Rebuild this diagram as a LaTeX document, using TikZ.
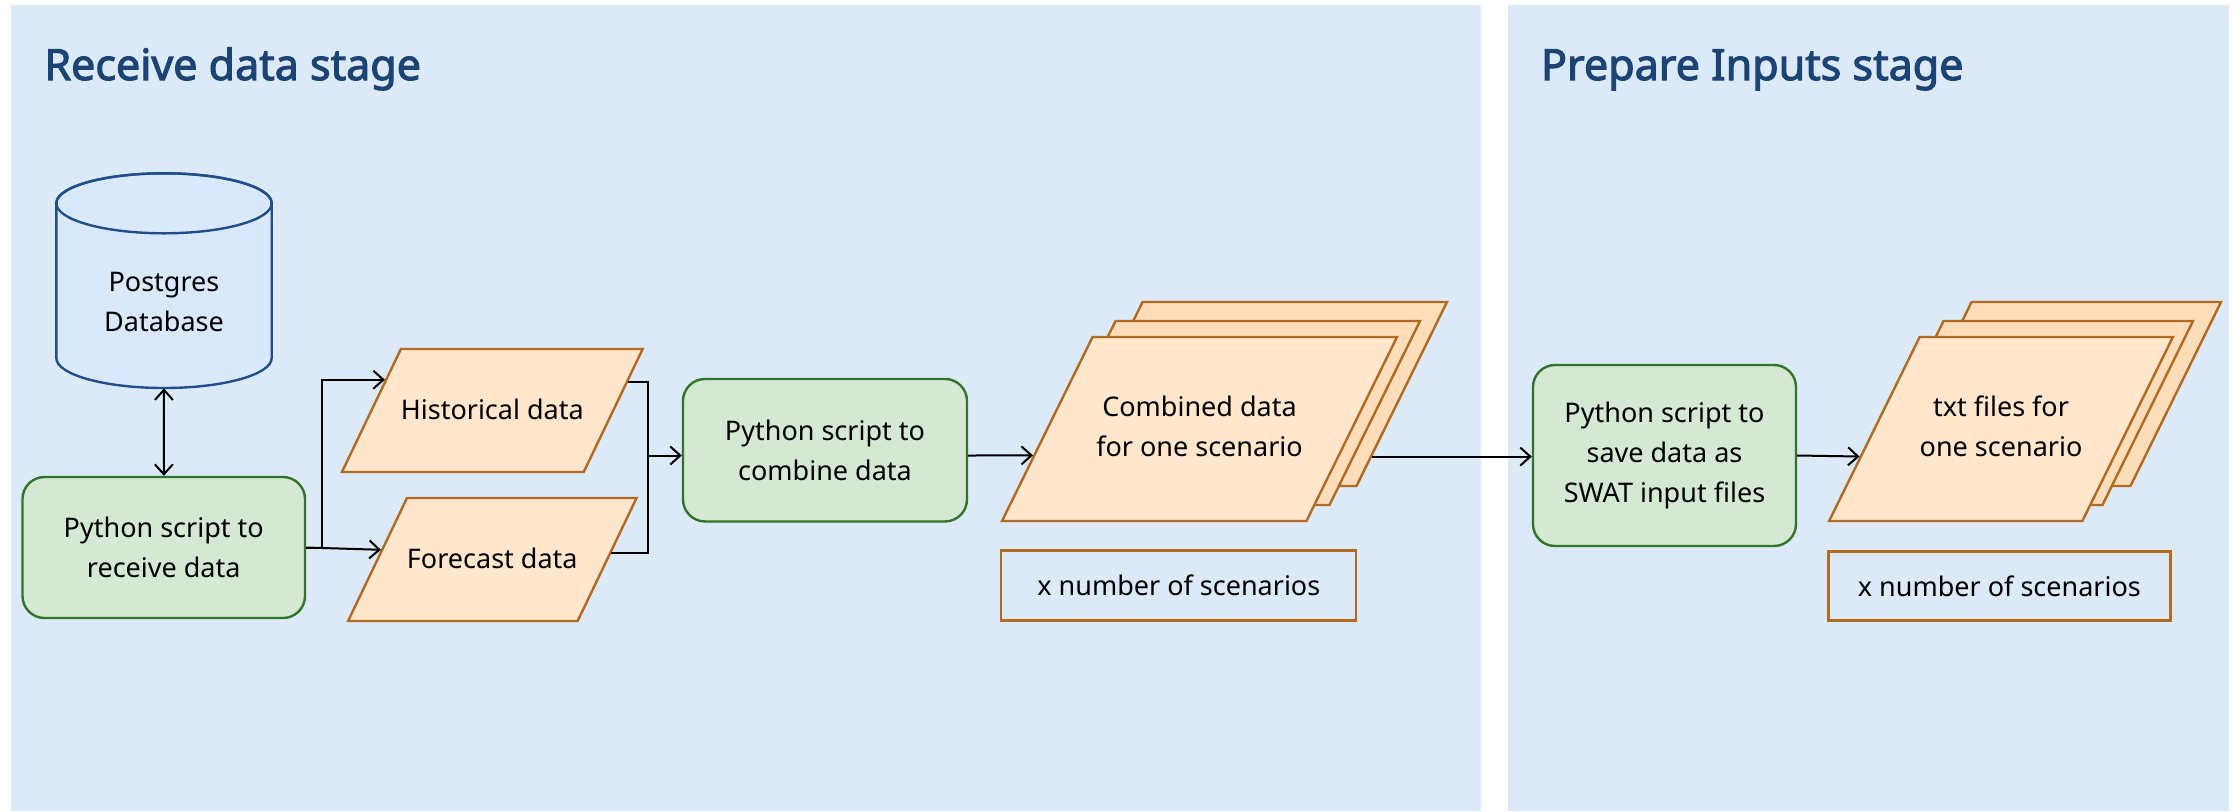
\documentclass[tikz,border=0pt]{standalone}
\usepackage{fontspec}
\setmainfont{Noto Sans}
\newfontfamily\stagefam{Noto Sans}[AutoFakeBold=2.5]
\usetikzlibrary{positioning,shapes.geometric,arrows.meta}
\definecolor{panelblue}{RGB}{220,233,247}
\definecolor{titleblue}{RGB}{27,68,117}
\definecolor{dbfill}{RGB}{218,232,252}
\definecolor{dbline}{RGB}{32,78,140}
\definecolor{scriptfill}{RGB}{213,232,212}
\definecolor{scriptline}{RGB}{52,116,42}
\definecolor{datafill}{RGB}{255,230,204}
\definecolor{datafillb}{RGB}{254,221,186}
\definecolor{dataline}{RGB}{178,106,34}
\newcommand{\boxfont}{\fontsize{13.5}{20}\selectfont}
\newcommand{\stagefont}{\fontsize{21.5}{26}\stagefam\bfseries}
\tikzset{
  stagetitle/.style={anchor=base west, inner sep=0pt, text=titleblue, font=\stagefont},
  dbbody/.style={rectangle, inner sep=0pt, align=center, font=\boxfont},
  dbline/.style={draw=dbline, fill=dbfill, line width=1.2pt},
  script/.style={rectangle, rounded corners=11pt, draw=scriptline, fill=scriptfill,
    line width=1.2pt, align=center, font=\boxfont},
  datafile/.style={trapezium, trapezium stretches body=true, draw=dataline, fill=datafill,
    line width=1.2pt, align=center, font=\boxfont, inner xsep=0pt},
  oneline/.style={datafile, trapezium left angle=64.4, trapezium right angle=115.6,
    text height=11pt, text depth=2pt, inner ysep=24.25pt},
  twoline/.style={datafile, trapezium left angle=63.8, trapezium right angle=116.2,
    text height=30pt, text depth=3pt, inner ysep=29.5pt},
  layer/.style={twoline, fill=datafillb},
  count/.style={rectangle, draw=dataline, line width=1.2pt, font=\boxfont},
  arr/.style={-{Straight Barb[length=5pt,width=9pt]}, line width=1pt},
  darr/.style={{Straight Barb[length=5pt,width=9pt]}-{Straight Barb[length=5pt,width=9pt]}, line width=1pt},
  link/.style={line width=1pt}
}
\begin{document}
\begin{tikzpicture}[x=0.5pt,y=0.5pt]
    \useasboundingbox (0,0) rectangle (2239,-811);
    % stage panels
    \fill[panelblue] (10.5,-5) rectangle (1481,-811);
    \fill[panelblue] (1508,-5) rectangle (2229,-811);
    \node(T1) [stagetitle] at (44,-80) {Receive data stage};
    \node(T2) [stagetitle] at (1540.6,-80) {Prepare Inputs stage};
    % receive data stage
    \path[dbline] (56.3,-203.3) -- (56.3,-358)
        arc[start angle=180, end angle=360, x radius=53.85pt, y radius=15pt]
        -- (271.7,-203.3) arc[start angle=0, end angle=180, x radius=53.85pt, y radius=15pt] -- cycle;
    \draw[dbline, fill=none] (164,-203.3) ellipse[x radius=53.85pt, y radius=15pt];
    \node(db) [dbbody, minimum width=107.7pt, minimum height=86pt] at (164,-302) {Postgres\\Database};
    \node(recv) [script, minimum width=141.25pt, minimum height=70.5pt] at (163.75,-547.5) {Python script to\\receive data};
    \node(hist) [oneline, minimum width=140.65pt] at (492.3,-410.5) {Historical data};
    \node(fcst) [oneline, minimum width=140.65pt, below=11.8pt of hist] {Forecast data};
    \node(comb) [script, minimum width=142pt, minimum height=71.25pt] at (825,-450.2) {Python script to\\combine data};
    \node(cd3) [layer, minimum width=197.5pt] at (1249.5,-394) {};
    \node(cd2) [layer, minimum width=197.5pt] at (1222.5,-413) {};
    \node(cd) [twoline, minimum width=197.5pt] at (1199.5,-429) {Combined data\\for one scenario};
    \node(n1) [count, minimum width=177.5pt, minimum height=35pt, below right=13.5pt and 0pt of cd.bottom left corner] {x number of scenarios};
    % prepare inputs stage
    \node(save) [script, minimum width=131.5pt, minimum height=90.5pt] at (1664.5,-455.5) {Python script to\\save data as\\SWAT input files};
    \node(txt3) [layer, minimum width=170pt] at (2051,-394) {};
    \node(txt2) [layer, minimum width=170pt] at (2023,-413) {};
    \node(txt) [twoline, minimum width=170pt] at (2001,-429) {txt files for\\one scenario};
    \node(n2) [count, minimum width=171pt, minimum height=34.5pt, below right=14pt and 0pt of txt.bottom left corner] {x number of scenarios};
    % connectors
    \coordinate(mj) at (648,-455.5);
    \draw[darr] (db) -- (recv);
    \draw[arr] (recv.east) -- ++(15.6,0) |- (hist.164);
    \draw[arr] (recv.east) -- (fcst.175);
    \draw[link] (hist.12) -| (mj);
    \draw[link] (fcst.3) -| (mj);
    \draw[arr] (mj) -- (comb.west |- mj);
    \draw[arr] (comb.east |- mj) -- (cd.189);
    \draw[arr] (cd3.-27) -- (cd3.-27 -| save.west);
    \draw[arr] (save.east) -- (txt.191);
\end{tikzpicture}
\end{document}
